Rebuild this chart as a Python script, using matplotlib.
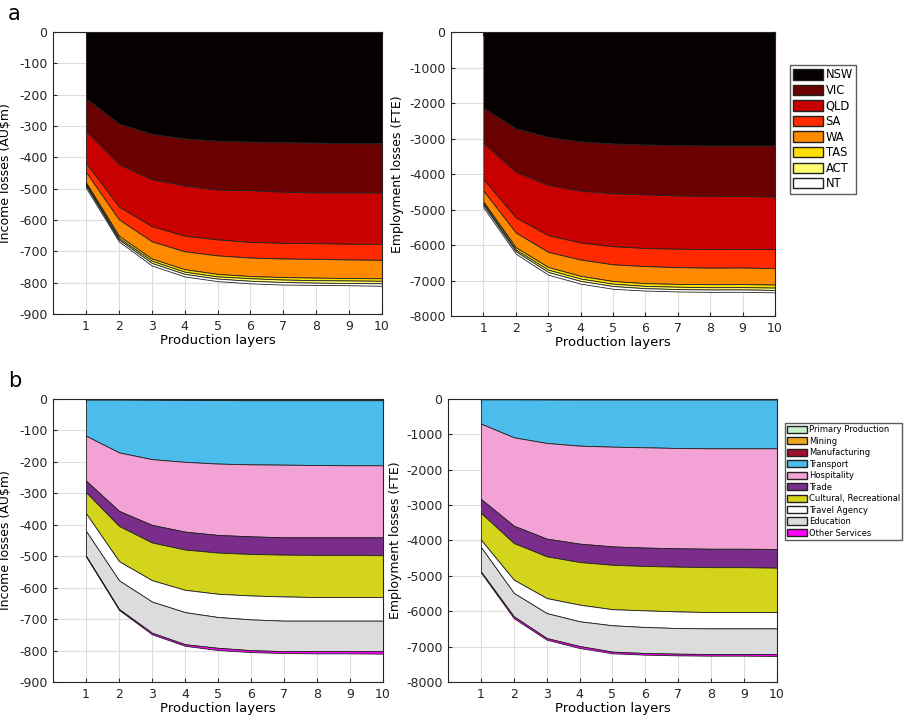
import numpy as np
import matplotlib
matplotlib.use("Agg")
from matplotlib import pyplot as plt
from matplotlib.patches import Patch

plt.rcParams['axes.unicode_minus'] = False
plt.rcParams['font.family'] = 'DejaVu Sans'

layers = [1, 2, 3, 4, 5, 6, 7, 8, 9, 10]

# panel a: losses by state (each layer's own share, plotted downwards)
states = ["NSW", "VIC", "QLD", "SA", "WA", "TAS", "ACT", "NT"]
state_colors = ["#060000", "#6a0000", "#c80000", "#ff2a00", "#ff8a00", "#ffe000", "#ffff70", "#ffffff"]

inc_nsw = [212, 292, 325, 340, 347, 350, 352, 353, 355, 355]
inc_vic = [103, 130, 145, 150, 156, 155, 158, 159, 157, 157]
inc_qld = [103, 135, 150, 160, 159, 165, 163, 162, 164, 164]
inc_sa = [29, 41, 48, 50, 51, 50, 50, 50, 50, 51]
inc_wa = [33, 52, 55, 57, 59, 59, 59, 60, 59, 59]
inc_tas = [5, 7, 7, 8, 8, 7, 8, 8, 8, 8]
inc_act = [5, 5, 7, 7, 7, 8, 8, 8, 8, 8]
inc_nt = [7, 6, 8, 8, 8, 8, 8, 7, 7, 8]

emp_nsw = [2140, 2710, 2960, 3085, 3140, 3170, 3190, 3198, 3200, 3200]
emp_vic = [990, 1225, 1350, 1385, 1405, 1405, 1415, 1415, 1420, 1440]
emp_qld = [1020, 1290, 1415, 1460, 1490, 1510, 1500, 1500, 1490, 1475]
emp_sa = [320, 425, 470, 480, 510, 510, 520, 525, 525, 535]
emp_wa = [310, 415, 425, 460, 470, 480, 470, 465, 465, 465]
emp_tas = [47, 66, 75, 76, 75, 76, 80, 85, 85, 85]
emp_act = [47, 47, 66, 66, 66, 66, 66, 66, 66, 66]
emp_nt = [66, 66, 76, 75, 76, 66, 66, 66, 66, 66]

# panel b: losses by industry
industries = ["Primary Production", "Mining", "Manufacturing", "Transport", "Hospitality",
              "Trade", "Cultural, Recreational", "Travel Agency", "Education", "Other Services"]
ind_colors = ["#c8f0c8", "#f0a820", "#a01030", "#4cbcec", "#f2a2d4",
              "#7b2d8b", "#d4d41c", "#ffffff", "#dcdcdc", "#ff00ff"]

inc_primary = [0.5, 0.5, 0.5, 0.5, 0.5, 0.5, 0.5, 0.5, 0.5, 0.5]
inc_mining = [0.5, 0.5, 0.5, 0.5, 0.5, 0.5, 0.5, 0.5, 0.5, 0.5]
inc_manuf = [1, 1, 1.5, 2, 2.5, 3, 3, 3, 3, 3]
inc_transport = [115, 168, 189, 197, 202, 204, 205, 206, 207, 207]
inc_hosp = [143, 186, 209, 222, 227, 229, 231, 230, 229, 229]
inc_trade = [37, 48, 56, 57, 56, 56, 55, 56, 56, 57]
inc_cultural = [67, 112, 120, 128, 131, 132, 133, 134, 134, 133]
inc_travel = [56, 61, 68, 71, 74, 76, 77, 75, 75, 75]
inc_edu = [79, 91, 99, 102, 98, 98, 97, 97, 97, 97]
inc_other = [2, 3, 5, 5, 7, 6, 6, 7, 7, 8]

emp_primary = [4, 4, 4, 4, 4, 4, 4, 4, 4, 4]
emp_mining = [3, 3, 3, 3, 3, 3, 3, 3, 3, 3]
emp_manuf = [5, 5, 8, 10, 10, 10, 10, 10, 10, 10]
emp_transport = [685, 1072, 1229, 1303, 1331, 1350, 1369, 1378, 1378, 1378]
emp_hosp = [2130, 2500, 2705, 2770, 2820, 2835, 2835, 2840, 2840, 2845]
emp_trade = [395, 490, 500, 520, 520, 520, 520, 520, 520, 530]
emp_cultural = [755, 1035, 1180, 1205, 1255, 1255, 1265, 1270, 1270, 1255]
emp_travel = [210, 375, 425, 470, 455, 470, 470, 460, 460, 460]
emp_edu = [690, 660, 705, 700, 745, 735, 725, 725, 725, 725]
emp_other = [28, 55, 47, 56, 47, 47, 47, 47, 47, 55]


def stacked(ax, series, colors, ymin, ystep, ylabel, label_x):
    x = np.array(layers)
    top = np.zeros(len(x))
    for vals, c in zip(series, colors):
        bottom = top - np.array(vals, dtype=float)
        ax.fill_between(x, top, bottom, facecolor=c, edgecolor='#222222', linewidth=0.6)
        top = bottom
    ax.set_xlim(0, 10)
    ax.set_ylim(ymin, 0)
    ax.set_xticks(layers)
    ax.set_yticks(np.arange(ymin, 1, ystep))
    ax.grid(True, color='#dddddd', linewidth=0.8)
    ax.set_axisbelow(True)
    ax.tick_params(direction='in', length=3, labelsize=9, colors='#262626',
                   top=True, right=True, pad=4)
    for s in ax.spines.values():
        s.set_color('#262626')
        s.set_linewidth(0.8)
    ax.set_xlabel("Production layers", fontsize=9.5, labelpad=1)
    ax.set_ylabel(ylabel, fontsize=9)
    ax.yaxis.set_label_coords(label_x, 0.5)


fig = plt.figure(figsize=(9.08, 7.15), dpi=100)

ax1 = fig.add_axes([0.0584, 0.5608, 0.3623, 0.3944])
stacked(ax1, [inc_nsw, inc_vic, inc_qld, inc_sa, inc_wa, inc_tas, inc_act, inc_nt],
        state_colors, -900, 100, "Income losses (AU\\$m)", -0.125)

ax2 = fig.add_axes([0.4967, 0.5580, 0.3568, 0.3972])
stacked(ax2, [emp_nsw, emp_vic, emp_qld, emp_sa, emp_wa, emp_tas, emp_act, emp_nt],
        state_colors, -8000, 1000, "Employment losses (FTE)", -0.145)

ax3 = fig.add_axes([0.0584, 0.0462, 0.3634, 0.3958])
stacked(ax3, [inc_primary, inc_mining, inc_manuf, inc_transport, inc_hosp, inc_trade,
              inc_cultural, inc_travel, inc_edu, inc_other],
        ind_colors, -900, 100, "Income losses (AU\\$m)", -0.125)

ax4 = fig.add_axes([0.4934, 0.0462, 0.3623, 0.3958])
stacked(ax4, [emp_primary, emp_mining, emp_manuf, emp_transport, emp_hosp, emp_trade,
              emp_cultural, emp_travel, emp_edu, emp_other],
        ind_colors, -8000, 1000, "Employment losses (FTE)", -0.14)

h1 = [Patch(facecolor=c, edgecolor='#222222', label=s) for s, c in zip(states, state_colors)]
fig.legend(handles=h1, loc='upper left', bbox_to_anchor=(790 / 908, 1 - 65 / 715),
           fontsize=8.3, frameon=True, fancybox=False, edgecolor='#333333',
           handlelength=2.6, handleheight=1.0, handletextpad=0.2, labelspacing=0.22,
           borderpad=0.3, borderaxespad=0)

h2 = [Patch(facecolor=c, edgecolor='#222222', label=s) for s, c in zip(industries, ind_colors)]
fig.legend(handles=h2, loc='upper left', bbox_to_anchor=(785 / 908, 1 - 423 / 715),
           fontsize=6.0, frameon=True, fancybox=False, edgecolor='#333333',
           handlelength=2.4, handleheight=1.0, handletextpad=0.2, labelspacing=0.3,
           borderpad=0.25, borderaxespad=0)

fig.text(8 / 908, 1 - 14 / 715, "a", fontsize=15, va='center')
fig.text(8 / 908, 1 - 381 / 715, "b", fontsize=15, va='center')

fig.savefig("out.png", dpi=100)
